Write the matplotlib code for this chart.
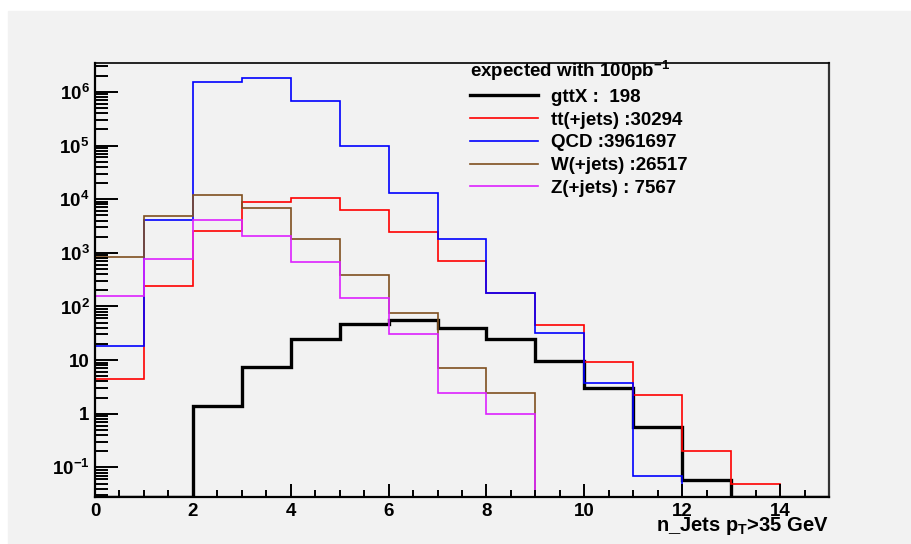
"""
Jet multiplicity (pT > 35 GeV) for signal and backgrounds, log scale,
drawn in the look of a ROOT canvas.
"""
import matplotlib
matplotlib.use("Agg")
import matplotlib.pyplot as plt
import numpy as np
from matplotlib.patches import Rectangle
from matplotlib.ticker import FixedLocator, FixedFormatter, LogLocator, NullFormatter, MultipleLocator

plt.rcParams["font.family"] = ["Liberation Sans", "DejaVu Sans"]
plt.rcParams["font.weight"] = "bold"
plt.rcParams["mathtext.fontset"] = "custom"
plt.rcParams["mathtext.rm"] = "Liberation Sans:bold"
plt.rcParams["mathtext.it"] = "Liberation Sans:bold"
plt.rcParams["mathtext.bf"] = "Liberation Sans:bold"

# bin edges: number of jets, 0..15
bin_edges = np.arange(0, 16)

# expected events per bin (100 pb^-1)
gttx = [0, 0, 1.4, 7.4, 24.5, 47, 56, 40, 24.5, 9.7, 3.0, 0.56, 0.059, 0, 0]
ttbar = [4.4, 240, 2600, 8700, 10300, 6300, 2460, 710, 180, 45, 9.1, 2.2, 0.2, 0.049, 0]
qcd = [18, 4100, 1.5e6, 1.8e6, 6.7e5, 9.7e4, 1.3e4, 1780, 178, 32, 3.7, 0.068, 0, 0, 0]
wjets = [850, 4860, 1.2e4, 6700, 1780, 390, 74, 7.2, 2.4, 0, 0, 0, 0, 0, 0]
zjets = [158, 767, 4100, 2080, 660, 142, 30, 2.4, 0.98, 0, 0, 0, 0, 0, 0]

labels = ["gttX :  198", "tt(+jets) :30294", "QCD :3961697",
          "W(+jets) :26517", "Z(+jets) : 7567"]
colors = ["black", "#ff0000", "#0000ff", "#7f4f1f", "#dd22ff"]
widths = [2.4, 1.2, 1.2, 1.2, 1.2]

y_decades = [0.1, 1, 10, 1e2, 1e3, 1e4, 1e5, 1e6]
y_ticklabels = ["10$^{-1}$", "1", "10", "10$^{2}$", "10$^{3}$",
                "10$^{4}$", "10$^{5}$", "10$^{6}$"]

YMIN, YMAX = 0.0284, 3.5e6
W, H = 912, 544

fig = plt.figure(figsize=(W / 100, H / 100), dpi=100, facecolor="white")
# grey ROOT canvas
fig.patches.append(Rectangle((8 / W, 0), 1 - 8 / W, 1 - 11 / H,
                             transform=fig.transFigure, color="#f2f2f2", zorder=-10))

ax = fig.add_axes([95 / W, (H - 496.7) / H, (829 - 95) / W, (496.7 - 62.7) / H])
ax.set_facecolor("#f2f2f2")
ax.set_yscale("log")

handles = []
series = [gttx, ttbar, qcd, wjets, zjets]
for vals, lab, col, lw in zip(series, labels, colors, widths):
    v = np.clip(np.asarray(vals, dtype=float), YMIN, None)
    h = ax.stairs(v, bin_edges, baseline=None, color=col, linewidth=lw, label=lab)
    handles.append(h)

ax.set_xlim(0, 15)
ax.set_ylim(YMIN, YMAX)

# axes / ticks in ROOT fashion
for side in ["left", "bottom"]:
    ax.spines[side].set_linewidth(1.6)
ax.spines["top"].set_linewidth(1.2)
ax.spines["right"].set_linewidth(1.6)
ax.spines["right"].set_color("#333333")

ax.xaxis.set_major_locator(MultipleLocator(2))
ax.xaxis.set_minor_locator(MultipleLocator(0.5))
ax.yaxis.set_major_locator(FixedLocator(y_decades))
ax.yaxis.set_major_formatter(FixedFormatter(y_ticklabels))
ax.yaxis.set_minor_locator(LogLocator(base=10, subs=np.arange(2, 10)))
ax.yaxis.set_minor_formatter(NullFormatter())

ax.tick_params(axis="both", which="both", direction="in", top=False, right=False,
               width=1.4, labelsize=13.5)
ax.tick_params(axis="y", which="major", length=16.5, pad=4)
ax.tick_params(axis="y", which="minor", length=9.4)
ax.tick_params(axis="x", which="major", length=9.4, pad=4.5)
ax.tick_params(axis="x", which="minor", length=5)

ax.text(1.0, -0.078, "n_Jets p$_{T}$>35 GeV", transform=ax.transAxes,
        ha="right", va="baseline", fontsize=14.5, fontweight="bold")

leg = ax.legend(handles=handles, title="expected with 100pb$^{-1}$",
                loc="upper left", bbox_to_anchor=(470 / W, 1 - 59 / H),
                bbox_transform=fig.transFigure, frameon=False,
                fontsize=13.5, title_fontsize=13.5, alignment="left",
                handlelength=3.6, handletextpad=0.7, labelspacing=0.3,
                borderpad=0, borderaxespad=0)
leg.get_title().set_fontweight("bold")

fig.savefig("out.png", dpi=100, facecolor=fig.get_facecolor())
